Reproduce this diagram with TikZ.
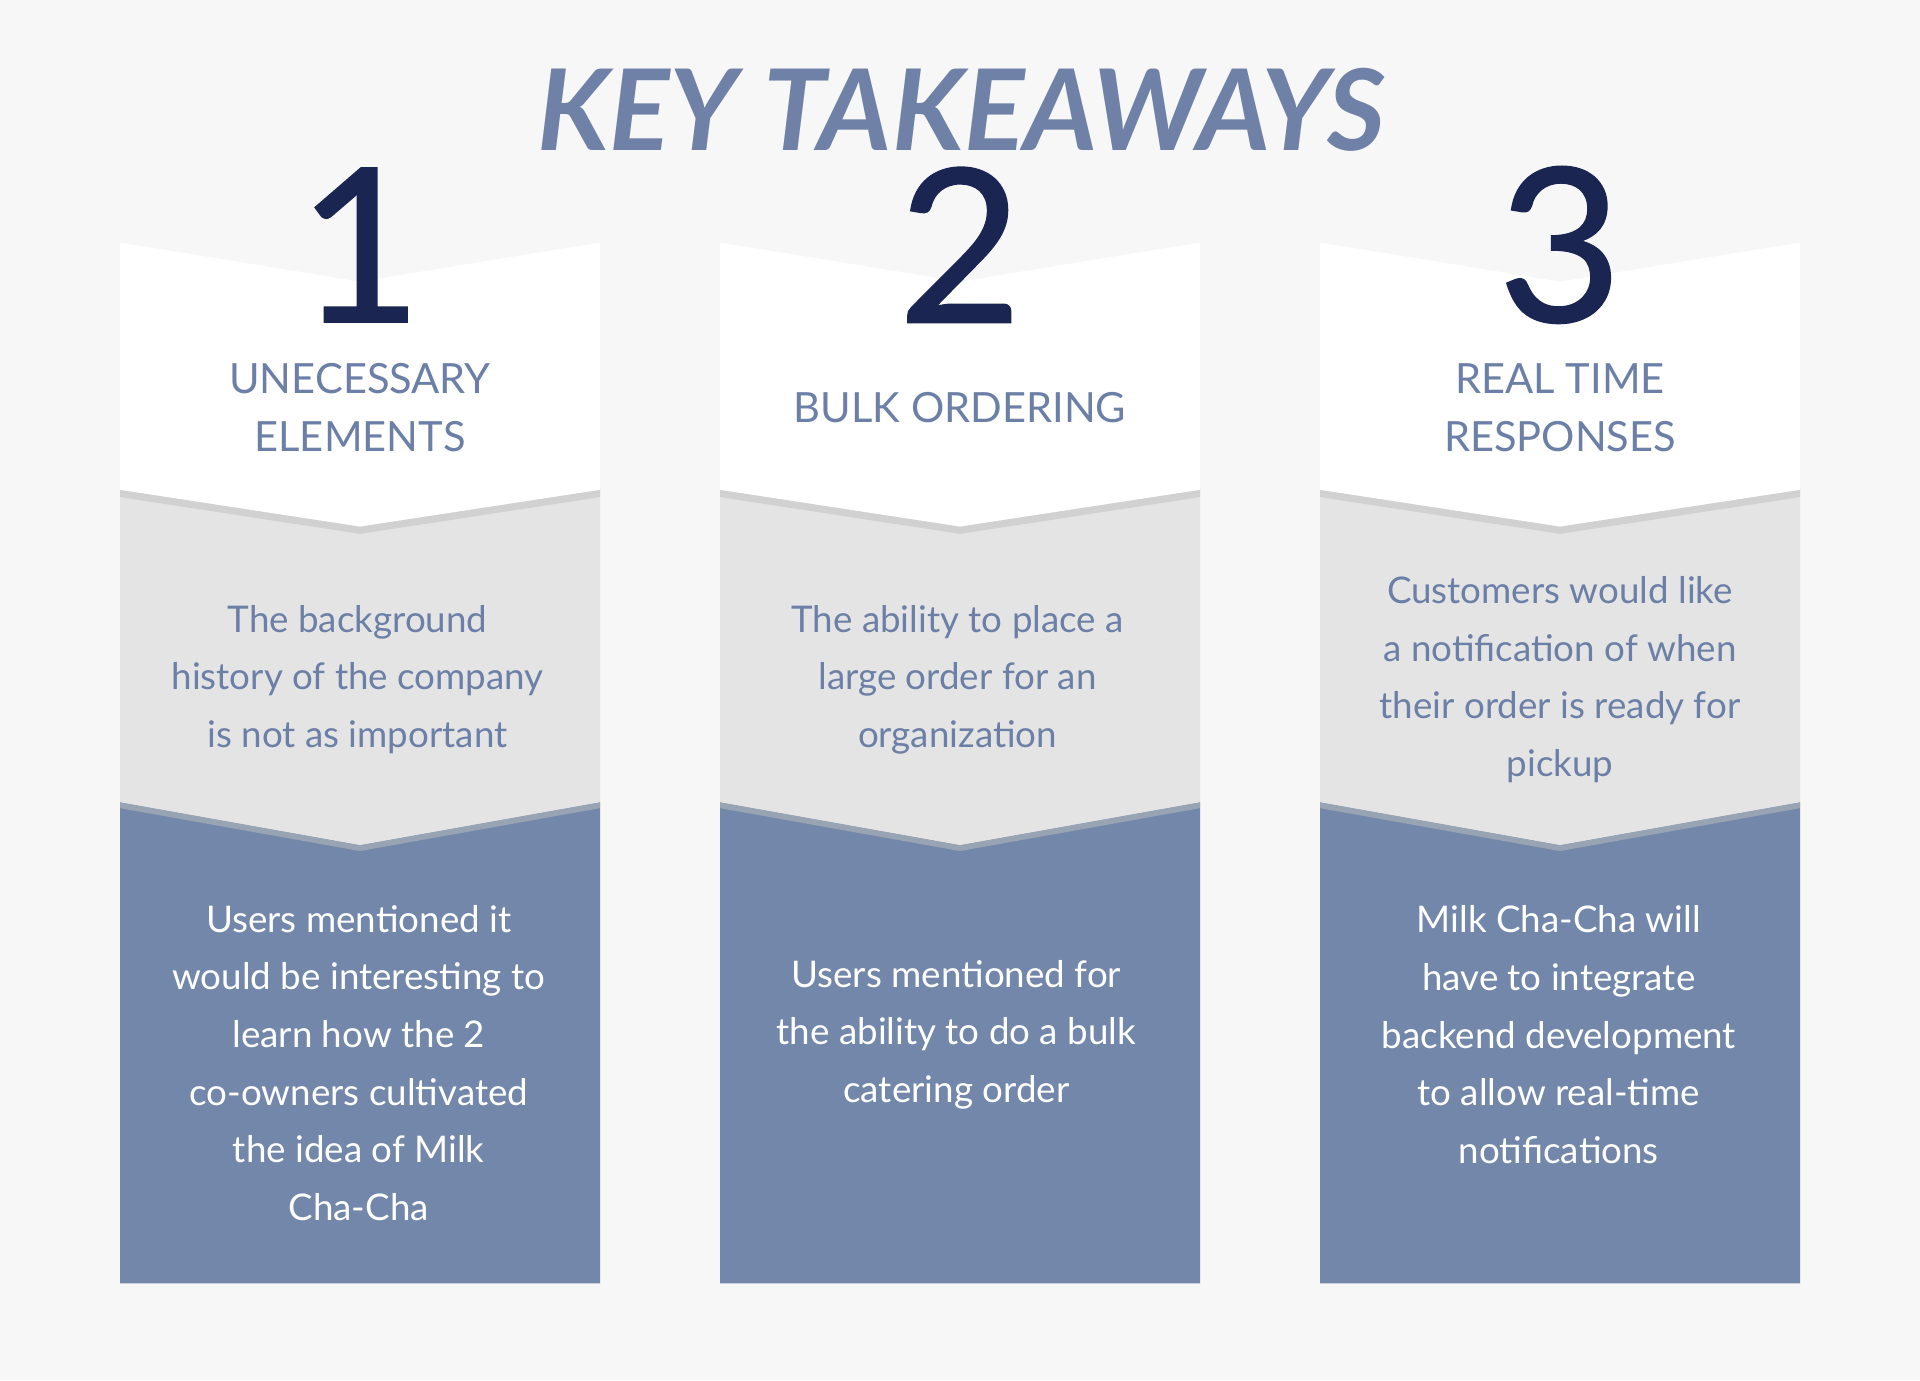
\documentclass[tikz,border=0pt]{standalone}
\usepackage{fontspec}
\setmainfont{Lato}
\definecolor{bg}{HTML}{F7F7F7}
\definecolor{bluep}{HTML}{7287AA}
\definecolor{grayp}{HTML}{E4E4E4}
\definecolor{txt}{HTML}{6C7FA6}
\definecolor{navy}{HTML}{1B2552}
\definecolor{ttl}{HTML}{6F81A7}
\begin{document}
\begin{tikzpicture}[x=1pt,y=-1pt,
  body/.style={align=center,font=\fontsize{30}{47}\selectfont},
  head/.style={align=center,text=txt,font=\fontsize{34}{47}\selectfont},
  num/.style={text=navy,font=\fontsize{175}{175}\selectfont}]
\useasboundingbox (0,0) rectangle (1568,1127);
\fill[bg] (0,0) rectangle (1568,1127);
\node[text=ttl,font=\fontsize{92}{92}\selectfont\bfseries\itshape] (title) at (785,90) {KEY TAKEAWAYS};
\foreach \i/\cx in {1/294,2/784,3/1274}{
  \pgfmathsetmacro{\l}{\cx-196}\pgfmathsetmacro{\r}{\cx+196}
  \fill[bluep] (\l,655) -- (\cx,690) -- (\r,655) -- (\r,1048) -- (\l,1048) -- cycle;
  \fill[black!25,opacity=0.5] (\l,652) -- (\cx,687) -- (\r,652) -- (\r,660) -- (\cx,695) -- (\l,660) -- cycle;
  \fill[grayp] (\l,400) -- (\cx,430) -- (\r,400) -- (\r,655) -- (\cx,690) -- (\l,655) -- cycle;
  \fill[black!25,opacity=0.5] (\l,398) -- (\cx,428) -- (\r,398) -- (\r,406) -- (\cx,436) -- (\l,406) -- cycle;
  \fill[white] (\l,198) -- (\cx,230) -- (\r,198) -- (\r,400) -- (\cx,430) -- (\l,400) -- cycle;
  \node[num] (n\i) at (\cx,200) {\special{pdf:code 2 Tr 1.5 w}\i\special{pdf:code 0 Tr}};
}
\node[head] (h1) at (294,333) {UNECESSARY\\ELEMENTS};
\node[head] (h2) at (784,333) {BULK ORDERING};
\node[head] (h3) at (1274,333) {REAL TIME\\RESPONSES};
\node[body,text=txt] (g1) at (292,555) {The background\\history of the company\\is not as important};
\node[body,text=txt] (g2) at (782,555) {The ability to place a\\large order for an\\organization};
\node[body,text=txt] (g3) at (1274,555) {Customers would like\\a notification of when\\their order is ready for\\pickup};
\node[body,text=white] (b1) at (293,868) {Users mentioned it\\would be interesting to\\learn how the 2\\co-owners cultivated\\the idea of Milk\\Cha-Cha};
\node[body,text=white] (b2) at (781,845) {Users mentioned for\\the ability to do a bulk\\catering order};
\node[body,text=white] (b3) at (1273,845) {Milk Cha-Cha will\\have to integrate\\backend development\\to allow real-time\\notifications};
\end{tikzpicture}
\end{document}
